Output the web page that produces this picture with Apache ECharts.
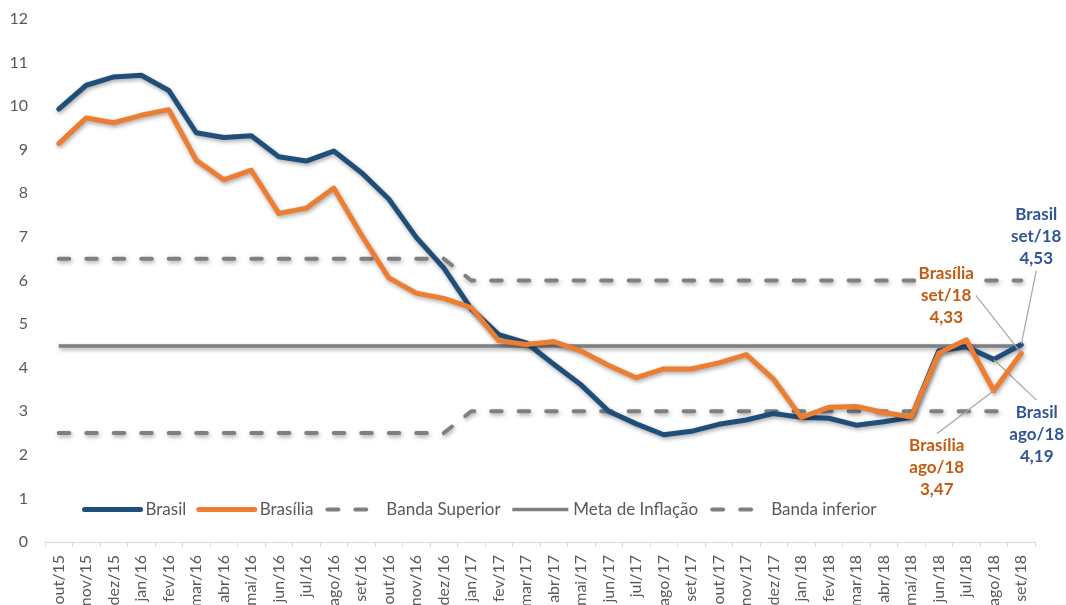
<!DOCTYPE html>
<html><head><meta charset="utf-8">
<script src="https://cdn.jsdelivr.net/npm/echarts@6/dist/echarts.min.js"></script>
<style>html,body{margin:0;padding:0;background:#fff}#c{width:1066px;height:605px}</style>
</head><body><div id="c"></div>
<script>
const categories = ['out/15','nov/15','dez/15','jan/16','fev/16','mar/16','abr/16','mai/16','jun/16','jul/16','ago/16','set/16','out/16','nov/16','dez/16','jan/17','fev/17','mar/17','abr/17','mai/17','jun/17','jul/17','ago/17','set/17','out/17','nov/17','dez/17','jan/18','fev/18','mar/18','abr/18','mai/18','jun/18','jul/18','ago/18','set/18'];
const brasil = [9.93,10.48,10.67,10.71,10.36,9.39,9.28,9.32,8.84,8.74,8.97,8.48,7.87,6.99,6.29,5.35,4.76,4.57,4.08,3.60,3.00,2.71,2.46,2.54,2.70,2.80,2.95,2.86,2.84,2.68,2.76,2.86,4.39,4.48,4.19,4.53];
const brasilia = [9.14,9.73,9.62,9.79,9.92,8.76,8.31,8.53,7.54,7.66,8.12,7.05,6.06,5.71,5.59,5.38,4.62,4.53,4.60,4.38,4.05,3.77,3.97,3.97,4.11,4.30,3.73,2.86,3.09,3.11,2.97,2.87,4.33,4.64,3.47,4.33];
const bandaSuperior = [6.5,6.5,6.5,6.5,6.5,6.5,6.5,6.5,6.5,6.5,6.5,6.5,6.5,6.5,6.5,6,6,6,6,6,6,6,6,6,6,6,6,6,6,6,6,6,6,6,6,6];
const metaInflacao = [4.5,4.5,4.5,4.5,4.5,4.5,4.5,4.5,4.5,4.5,4.5,4.5,4.5,4.5,4.5,4.5,4.5,4.5,4.5,4.5,4.5,4.5,4.5,4.5,4.5,4.5,4.5,4.5,4.5,4.5,4.5,4.5,4.5,4.5,4.5,4.5];
const bandaInferior = [2.5,2.5,2.5,2.5,2.5,2.5,2.5,2.5,2.5,2.5,2.5,2.5,2.5,2.5,2.5,3,3,3,3,3,3,3,3,3,3,3,3,3,3,3,3,3,3,3,3,3];
const yTicks = [0,1,2,3,4,5,6,7,8,9,10,11,12];
const annotated = ['ago/18','set/18'];

// label placement (pixel offsets from the point)
const labelOffsets = {
  'Brasil': {'ago/18':[43,75], 'set/18':[15,-108]},
  'Brasília': {'ago/18':[-57,77], 'set/18':[-75,-58]}
};

const FONT = 'Lato, "Open Sans", sans-serif';
const dashStyle = [10.5, 17];
const legendDash = [11, 17];
const shadow = {shadowColor:'rgba(0,0,0,0.35)', shadowBlur:4, shadowOffsetY:2, shadowOffsetX:1};

function mkData(arr){
  return arr.map((v,i)=> annotated.includes(categories[i]) ?
    {value:v, symbol:'circle', symbolSize:1, label:{show:true}} : v);
}
function annotLabel(color){
  return {
    show:false, position:'inside', color:color, fontFamily:FONT, fontWeight:'bold',
    fontSize:17, lineHeight:22, align:'center', backgroundColor:'#fff', padding:[1,2],
    formatter: p => p.seriesName + '\n' + p.name + '\n' + p.value.toFixed(2).replace('.', ',')
  };
}

const chart = echarts.init(document.getElementById('c'));
chart.setOption({
  animation:false,
  backgroundColor:'#fff',
  grid:{left:45, right:31, top:19, bottom:63, containLabel:false, outerBoundsMode:'none'},
  legend:{
    left:77, top:496, itemWidth:56, itemHeight:14, itemGap:10,
    itemStyle:{opacity:0},
    textStyle:{color:'#595959', fontSize:17, fontFamily:FONT},
    data:[
      {name:'Brasil', lineStyle:{width:5, cap:'round'}},
      {name:'Brasília', lineStyle:{width:5, cap:'round'}},
      {name:'Banda Superior', lineStyle:{width:4, cap:'round', type:legendDash, dashOffset:-2}},
      {name:'Meta de Inflação', lineStyle:{width:3.5}},
      {name:'Banda inferior', lineStyle:{width:4, cap:'round', type:legendDash, dashOffset:-2}}
    ]
  },
  xAxis:{
    type:'category', data:categories, boundaryGap:true,
    axisLine:{lineStyle:{color:'#d9d9d9', width:1}},
    axisTick:{show:true, alignWithLabel:false, length:5, lineStyle:{color:'#d9d9d9'}},
    axisLabel:{rotate:90, interval:0, color:'#595959', fontSize:16, fontFamily:FONT, margin:13}
  },
  yAxis:{
    type:'value', min:0, max:12, interval:1,
    axisLine:{show:false}, axisTick:{show:false}, splitLine:{show:false},
    axisLabel:{color:'#595959', fontSize:16, fontFamily:FONT, margin:17,
      formatter: v => yTicks.includes(v) ? String(v) : ''}
  },
  labelLayout: function(params){
    const s = params.seriesIndex === 0 ? 'Brasil' : 'Brasília';
    const name = categories[params.dataIndex];
    const off = labelOffsets[s] && labelOffsets[s][name];
    if(!off) return {};
    return {dx: off[0], dy: off[1]};
  },
  series:[
    {name:'Brasil', type:'line', data:mkData(brasil), symbol:'none', showSymbol:true, z:5,
      color:'#1f4e79',
      lineStyle:Object.assign({color:'#1f4e79', width:5, cap:'round', join:'round'}, shadow),
      itemStyle:{color:'#1f4e79'},
      label:annotLabel('#2f5597'),
      labelLine:{show:true, lineStyle:{color:'#a6a6a6', width:1.2}}},
    {name:'Brasília', type:'line', data:mkData(brasilia), symbol:'none', showSymbol:true, z:6,
      color:'#ed7d31',
      lineStyle:Object.assign({color:'#ed7d31', width:5, cap:'round', join:'round'}, shadow),
      itemStyle:{color:'#ed7d31'},
      label:annotLabel('#c55a11'),
      labelLine:{show:true, lineStyle:{color:'#a6a6a6', width:1.2}}},
    {name:'Banda Superior', type:'line', data:bandaSuperior, symbol:'none', z:3,
      color:'#7f7f7f',
      lineStyle:Object.assign({color:'#7f7f7f', width:4, type:dashStyle, cap:'round'}, shadow)},
    {name:'Meta de Inflação', type:'line', data:metaInflacao, symbol:'none', z:3,
      color:'#7f7f7f',
      lineStyle:Object.assign({color:'#7f7f7f', width:3.5}, shadow)},
    {name:'Banda inferior', type:'line', data:bandaInferior, symbol:'none', z:3,
      color:'#7f7f7f',
      lineStyle:Object.assign({color:'#7f7f7f', width:4, type:dashStyle, cap:'round'}, shadow)}
  ]
});
</script>
</body></html>
